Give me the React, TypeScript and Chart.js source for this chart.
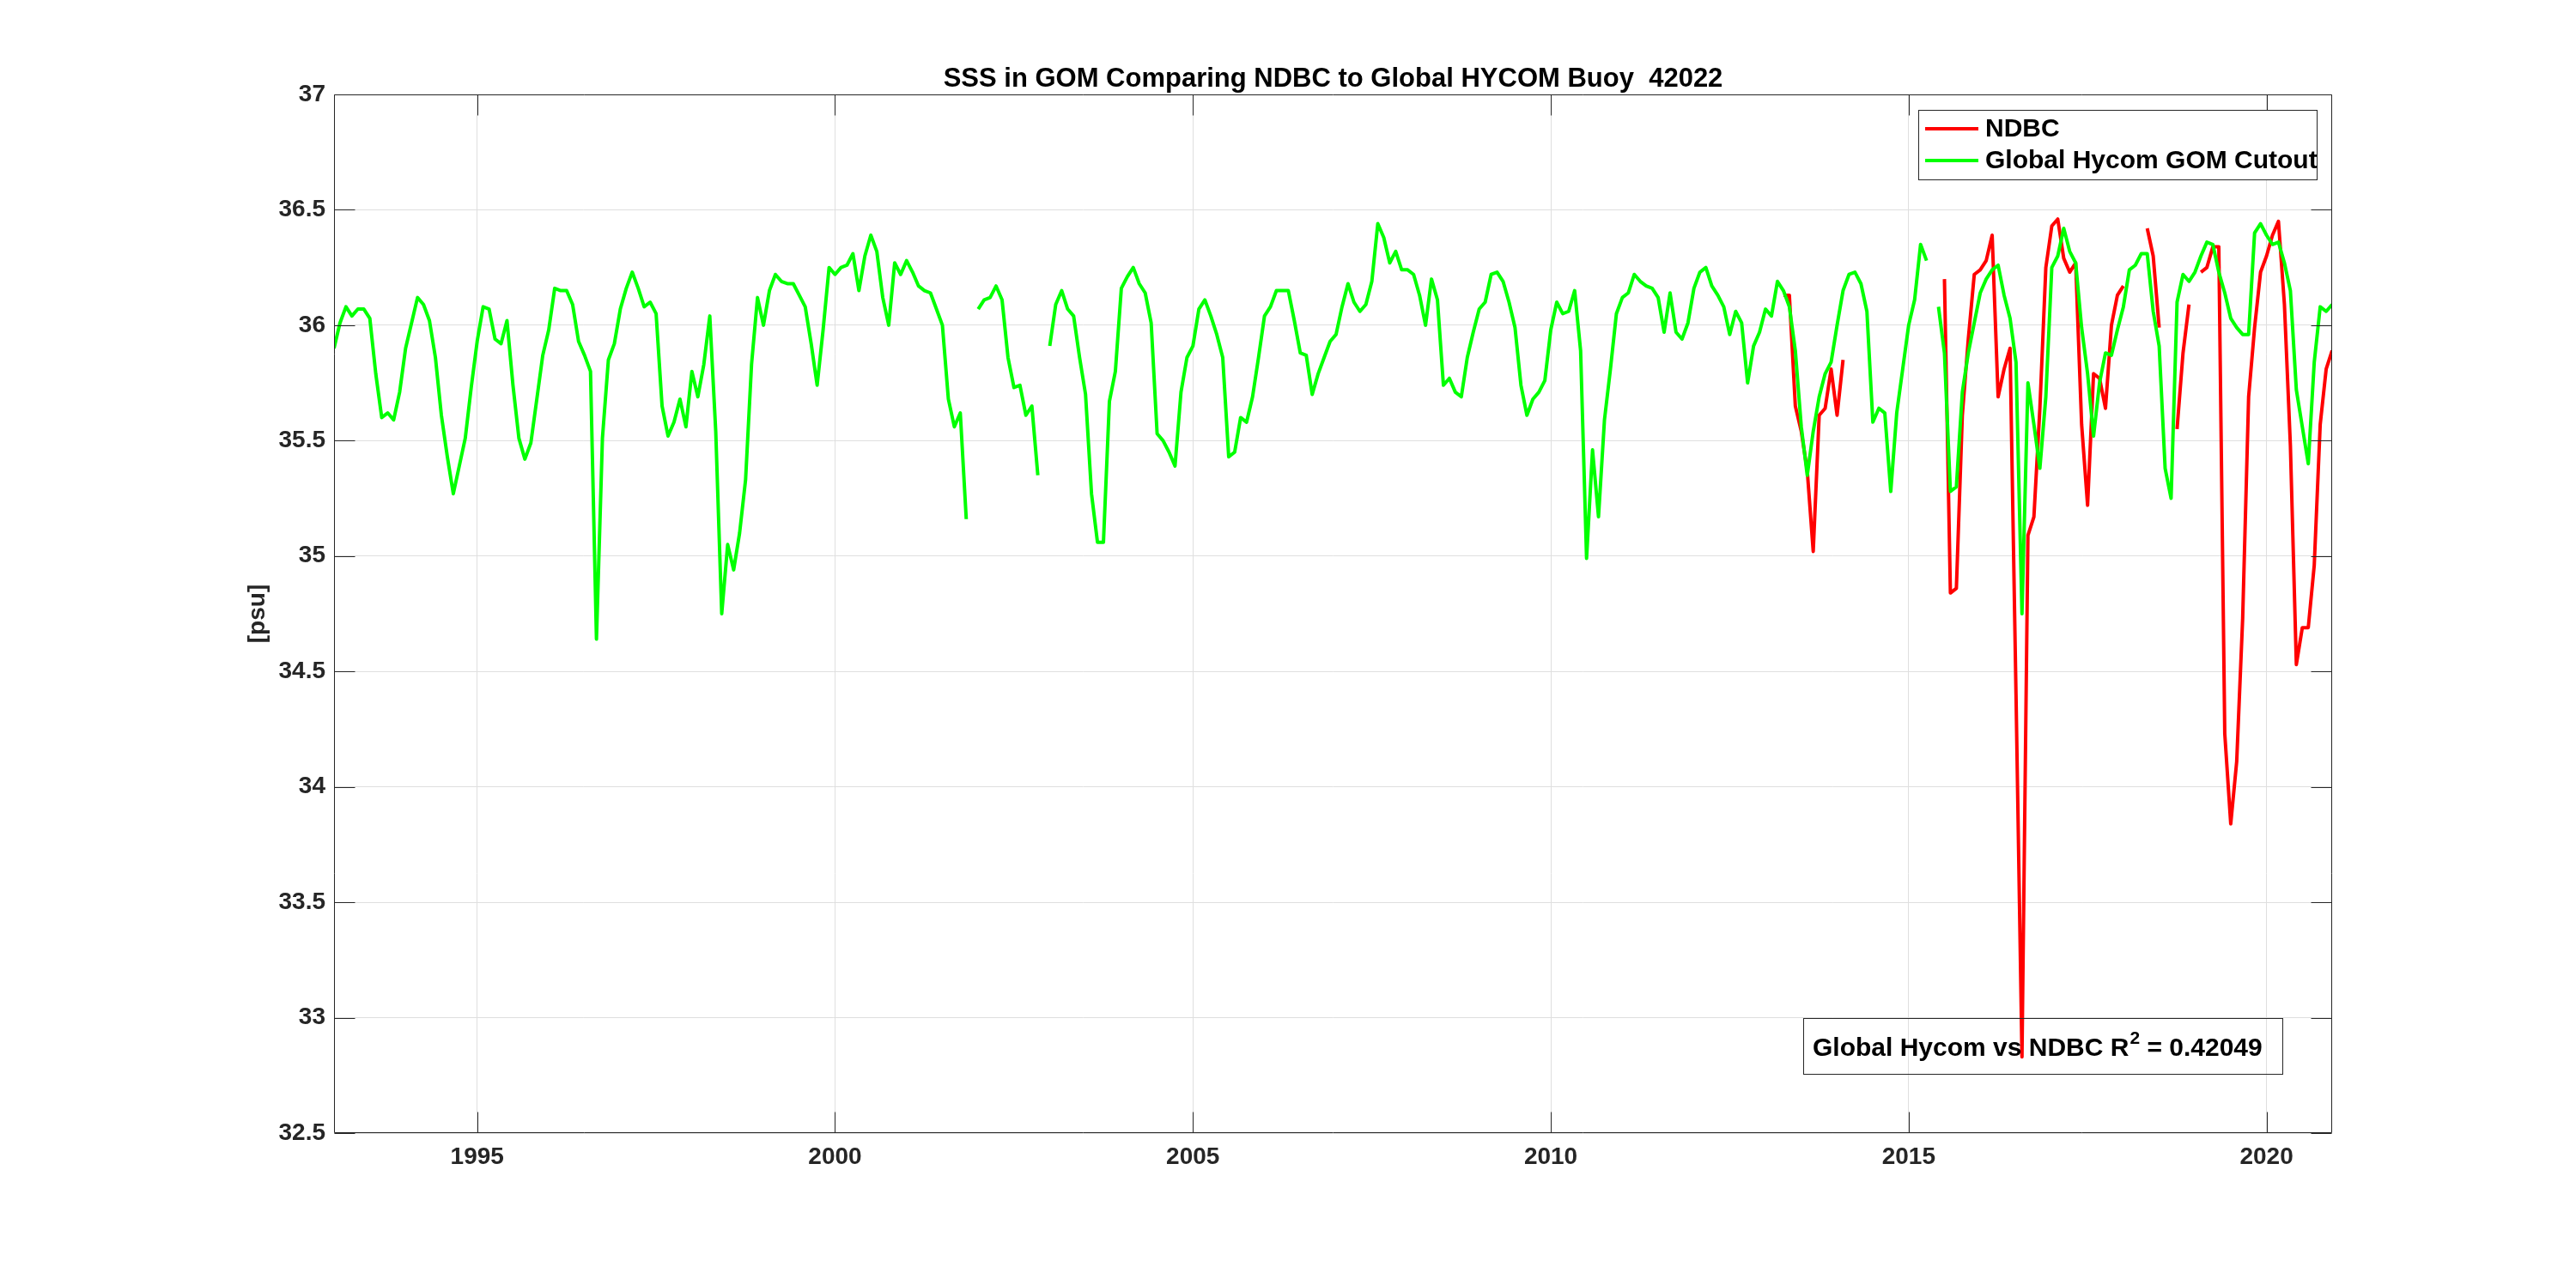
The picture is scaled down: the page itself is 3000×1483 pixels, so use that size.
import React, { useEffect, useRef } from "react";
import { Chart, registerables } from "chart.js";

Chart.register(...registerables);

// ---------------- data ----------------
const startYear = 1993; // monthly series, first value = Jan 1993
const titleText = "SSS in GOM Comparing NDBC to Global HYCOM Buoy  42022";
const yAxisLabel = "[psu]";
const ndbcLabel = "NDBC";
const hycomLabel = "Global Hycom GOM Cutout";
const r2Prefix = "Global Hycom vs NDBC R";
const r2Value = "0.42049";

const xTickYears = [1995, 2000, 2005, 2010, 2015, 2020];
const yTickValues = [32.5, 33, 33.5, 34, 34.5, 35, 35.5, 36, 36.5, 37];

// Global Hycom GOM cutout, Jan 1993 .. Dec 2020 (336 months, null = missing)
const hycomValues: (number | null)[] = [
  // 1993
  35.90, 36.01, 36.08, 36.04, 36.07, 36.07, 36.03, 35.79, 35.60, 35.62, 35.59, 35.71,
  // 1994
  35.90, 36.01, 36.12, 36.09, 36.02, 35.86, 35.61, 35.43, 35.27, 35.39, 35.51, 35.73,
  // 1995
  35.93, 36.08, 36.07, 35.94, 35.92, 36.02, 35.74, 35.51, 35.42, 35.49, 35.68, 35.87,
  // 1996
  35.98, 36.16, 36.15, 36.15, 36.09, 35.93, 35.87, 35.80, 34.64, 35.51, 35.85, 35.92,
  // 1997
  36.07, 36.16, 36.23, 36.16, 36.08, 36.10, 36.05, 35.65, 35.52, 35.58, 35.68, 35.56,
  // 1998
  35.80, 35.69, 35.83, 36.04, 35.54, 34.75, 35.05, 34.94, 35.10, 35.33, 35.83, 36.12,
  // 1999
  36.00, 36.15, 36.22, 36.19, 36.18, 36.18, 36.13, 36.08, 35.92, 35.74, 35.98, 36.25,
  // 2000
  36.22, 36.25, 36.26, 36.31, 36.15, 36.30, 36.39, 36.32, 36.12, 36.00, 36.27, 36.22,
  // 2001
  36.28, 36.23, 36.17, 36.15, 36.14, 36.07, 36.00, 35.68, 35.56, 35.62, 35.16, null,
  // 2002
  36.07, 36.11, 36.12, 36.17, 36.11, 35.86, 35.73, 35.74, 35.61, 35.65, 35.35, null,
  // 2003
  35.91, 36.09, 36.15, 36.07, 36.04, 35.86, 35.70, 35.27, 35.06, 35.06, 35.67, 35.80,
  // 2004
  36.16, 36.21, 36.25, 36.18, 36.14, 36.01, 35.53, 35.50, 35.45, 35.39, 35.71, 35.86,
  // 2005
  35.91, 36.07, 36.11, 36.04, 35.96, 35.86, 35.43, 35.45, 35.60, 35.58, 35.69, 35.86,
  // 2006
  36.04, 36.08, 36.15, 36.15, 36.15, 36.02, 35.88, 35.87, 35.70, 35.79, 35.86, 35.93,
  // 2007
  35.96, 36.08, 36.18, 36.10, 36.06, 36.09, 36.19, 36.44, 36.38, 36.27, 36.32, 36.24,
  // 2008
  36.24, 36.22, 36.13, 36.00, 36.20, 36.11, 35.74, 35.77, 35.71, 35.69, 35.86, 35.97,
  // 2009
  36.07, 36.10, 36.22, 36.23, 36.19, 36.10, 35.99, 35.74, 35.61, 35.68, 35.71, 35.76,
  // 2010
  35.98, 36.10, 36.05, 36.06, 36.15, 35.89, 34.99, 35.46, 35.17, 35.59, 35.81, 36.05,
  // 2011
  36.12, 36.14, 36.22, 36.19, 36.17, 36.16, 36.12, 35.97, 36.14, 35.97, 35.94, 36.01,
  // 2012
  36.16, 36.23, 36.25, 36.17, 36.13, 36.08, 35.96, 36.06, 36.01, 35.75, 35.91, 35.97,
  // 2013
  36.07, 36.04, 36.19, 36.15, 36.08, 35.89, 35.56, 35.35, 35.54, 35.69, 35.79, 35.84,
  // 2014
  36.00, 36.15, 36.22, 36.23, 36.18, 36.06, 35.58, 35.64, 35.62, 35.28, 35.62, 35.81,
  // 2015
  36.00, 36.11, 36.35, 36.28, null, 36.08, 35.88, 35.28, 35.30, 35.71, 35.88, 36.01,
  // 2016
  36.14, 36.20, 36.24, 36.26, 36.13, 36.03, 35.84, 34.75, 35.75, 35.57, 35.38, 35.69,
  // 2017
  36.25, 36.30, 36.42, 36.32, 36.27, 35.99, 35.79, 35.52, 35.75, 35.88, 35.87, 35.98,
  // 2018
  36.08, 36.24, 36.26, 36.31, 36.31, 36.06, 35.91, 35.38, 35.25, 36.10, 36.22, 36.19,
  // 2019
  36.23, 36.30, 36.36, 36.35, 36.23, 36.14, 36.03, 35.99, 35.96, 35.96, 36.40, 36.44,
  // 2020
  36.39, 36.35, 36.36, 36.27, 36.15, 35.72, 35.56, 35.40, 35.84, 36.08, 36.06, 36.09,
];

// NDBC buoy 42022, starting Apr 2013 (month index 243 from Jan 1993)
const ndbcStartIndex = 243;
const ndbcValues: (number | null)[] = [
  // 2013 Apr..Dec
  36.13, 36.13, 35.65, 35.54, 35.37, 35.02, 35.61, 35.64, 35.81,
  // 2014
  35.61, 35.85, null, null, null, null, null, null, null, null, null, null,
  // 2015
  null, null, null, null, null, null, 36.20, 34.84, 34.86, 35.61, 35.94, 36.22,
  // 2016
  36.24, 36.28, 36.39, 35.69, 35.81, 35.90, 34.40, 32.83, 35.09, 35.17, 35.64, 36.25,
  // 2017
  36.43, 36.46, 36.29, 36.23, 36.27, 35.57, 35.22, 35.79, 35.77, 35.64, 36.00, 36.13,
  // 2018
  36.17, null, null, null, 36.42, 36.30, 35.99, null, null, 35.55, 35.88, 36.09,
  // 2019
  null, 36.23, 36.25, 36.34, 36.34, 34.23, 33.84, 34.11, 34.73, 35.69, 35.99, 36.23,
  // 2020
  36.30, 36.39, 36.45, 36.09, 35.48, 34.53, 34.69, 34.69, 34.96, 35.57, 35.81, 35.89,
];

// ---------------- geometry / style ----------------
const FONT = "Liberation Sans, Arial, Helvetica, sans-serif";
const AX = "#262626";
const PLOT_LEFT = 389;
const PLOT_RIGHT_PAD = 284;
const PLOT_TOP = 110;
const XAXIS_HEIGHT = 163;

const monthToYear = (i: number) => startYear + i / 12;

const matlabPlugin = {
  id: "matlabDecor",
  afterDatasetsDraw(chart: any) {
    const { ctx, chartArea: a, scales } = chart;
    const xs = scales.x;
    const ys = scales.y;
    const L = Math.round(a.left) + 0.5;
    const R = Math.round(a.right) - 0.5;
    const T = Math.round(a.top) + 0.5;
    const B = Math.round(a.bottom) - 0.5;
    ctx.save();
    // axes box
    ctx.strokeStyle = AX;
    ctx.lineWidth = 1;
    ctx.beginPath();
    ctx.rect(L, T, R - L, B - T);
    ctx.stroke();
    // inward tick marks
    const tl = 24;
    ctx.beginPath();
    for (const v of xTickYears) {
      const px = Math.round(xs.getPixelForValue(v)) + 0.5;
      ctx.moveTo(px, B);
      ctx.lineTo(px, B - tl);
      ctx.moveTo(px, T);
      ctx.lineTo(px, T + tl);
    }
    for (const v of yTickValues) {
      const py = Math.round(ys.getPixelForValue(v)) + 0.5;
      ctx.moveTo(L, py);
      ctx.lineTo(L + tl, py);
      ctx.moveTo(R, py);
      ctx.lineTo(R - tl, py);
    }
    ctx.stroke();

    // title
    ctx.fillStyle = "#000";
    ctx.font = `bold 31px ${FONT}`;
    ctx.textAlign = "center";
    ctx.textBaseline = "alphabetic";
    ctx.fillText(titleText, (a.left + a.right) / 2, 101);

    // legend
    const lx0 = 2234, ly0 = 128, lx1 = 2698, ly1 = 209;
    ctx.fillStyle = "#fff";
    ctx.fillRect(lx0, ly0, lx1 - lx0, ly1 - ly0);
    ctx.strokeStyle = AX;
    ctx.lineWidth = 1;
    ctx.strokeRect(lx0 + 0.5, ly0 + 0.5, lx1 - lx0, ly1 - ly0);
    const items = [
      { label: ndbcLabel, color: "#ff0000", y: 150 },
      { label: hycomLabel, color: "#00ff00", y: 187 },
    ];
    ctx.font = `bold 30px ${FONT}`;
    ctx.textAlign = "left";
    ctx.textBaseline = "middle";
    for (const it of items) {
      ctx.strokeStyle = it.color;
      ctx.lineWidth = 4;
      ctx.beginPath();
      ctx.moveTo(2242, it.y);
      ctx.lineTo(2304, it.y);
      ctx.stroke();
      ctx.fillStyle = "#000";
      ctx.fillText(it.label, 2312, it.y + 1);
    }

    // R^2 annotation box
    ctx.strokeStyle = AX;
    ctx.lineWidth = 1;
    ctx.strokeRect(2100.5, 1186.5, 558, 65);
    ctx.fillStyle = "#000";
    ctx.textBaseline = "alphabetic";
    ctx.font = `bold 30px ${FONT}`;
    let tx = 2111;
    const by = 1230;
    ctx.fillText(r2Prefix, tx, by);
    tx += ctx.measureText(r2Prefix).width;
    ctx.font = `bold 21px ${FONT}`;
    ctx.fillText("2", tx + 1, by - 14);
    tx += ctx.measureText("2").width + 1;
    ctx.font = `bold 30px ${FONT}`;
    ctx.fillText(" = " + r2Value, tx, by);
    ctx.restore();
  },
};

export default function App() {
  const canvasRef = useRef<HTMLCanvasElement | null>(null);

  useEffect(() => {
    const canvas = canvasRef.current;
    if (!canvas) return;
    const hycomData = hycomValues.map((v, i) => ({ x: monthToYear(i), y: v }));
    const ndbcData = ndbcValues.map((v, i) => ({ x: monthToYear(ndbcStartIndex + i), y: v }));
    const tickFont = { family: FONT, size: 28, weight: "bold" as const };

    const chart = new Chart(canvas, {
      type: "line",
      data: {
        datasets: [
          {
            label: ndbcLabel,
            data: ndbcData as any,
            borderColor: "#ff0000",
            backgroundColor: "#ff0000",
            borderWidth: 4,
            pointRadius: 0,
            tension: 0,
            spanGaps: false,
            borderJoinStyle: "round",
            order: 1,
          },
          {
            label: hycomLabel,
            data: hycomData as any,
            borderColor: "#00ff00",
            backgroundColor: "#00ff00",
            borderWidth: 4,
            pointRadius: 0,
            tension: 0,
            spanGaps: false,
            borderJoinStyle: "round",
            order: 0,
          },
        ],
      },
      options: {
        animation: false,
        responsive: true,
        maintainAspectRatio: false,
        devicePixelRatio: 1,
        layout: { padding: { top: PLOT_TOP, right: PLOT_RIGHT_PAD, bottom: 0, left: 0 } },
        plugins: {
          legend: { display: false },
          title: { display: false },
          tooltip: { enabled: false },
        },
        scales: {
          x: {
            type: "linear",
            min: monthToYear(0),
            max: monthToYear(hycomValues.length - 1),
            afterBuildTicks: (scale: any) => {
              scale.ticks = xTickYears.map((v) => ({ value: v }));
            },
            afterFit: (scale: any) => {
              scale.height = XAXIS_HEIGHT;
            },
            grid: { color: "#dfdfdf", lineWidth: 1, drawTicks: false },
            border: { display: false },
            ticks: {
              font: tickFont,
              color: AX,
              padding: 11,
              maxRotation: 0,
              autoSkip: false,
              callback: (v: any) => String(v),
            },
          },
          y: {
            type: "linear",
            min: yTickValues[0],
            max: yTickValues[yTickValues.length - 1],
            afterBuildTicks: (scale: any) => {
              scale.ticks = yTickValues.map((v) => ({ value: v }));
            },
            afterFit: (scale: any) => {
              scale.width = PLOT_LEFT;
            },
            grid: { color: "#dfdfdf", lineWidth: 1, drawTicks: false },
            border: { display: false },
            ticks: {
              font: tickFont,
              color: AX,
              padding: 10,
              autoSkip: false,
              callback: (v: any) => String(v),
            },
            title: {
              display: true,
              text: yAxisLabel,
              color: AX,
              font: { family: FONT, size: 28, weight: "bold" },
              padding: { top: 283, bottom: 0 },
            },
          },
        },
      },
      plugins: [matlabPlugin],
    });
    return () => chart.destroy();
  }, []);

  return (
    <div style={{ position: "fixed", left: 0, top: 0, width: 3000, height: 1483, background: "#fff" }}>
      <canvas ref={canvasRef} />
    </div>
  );
}
